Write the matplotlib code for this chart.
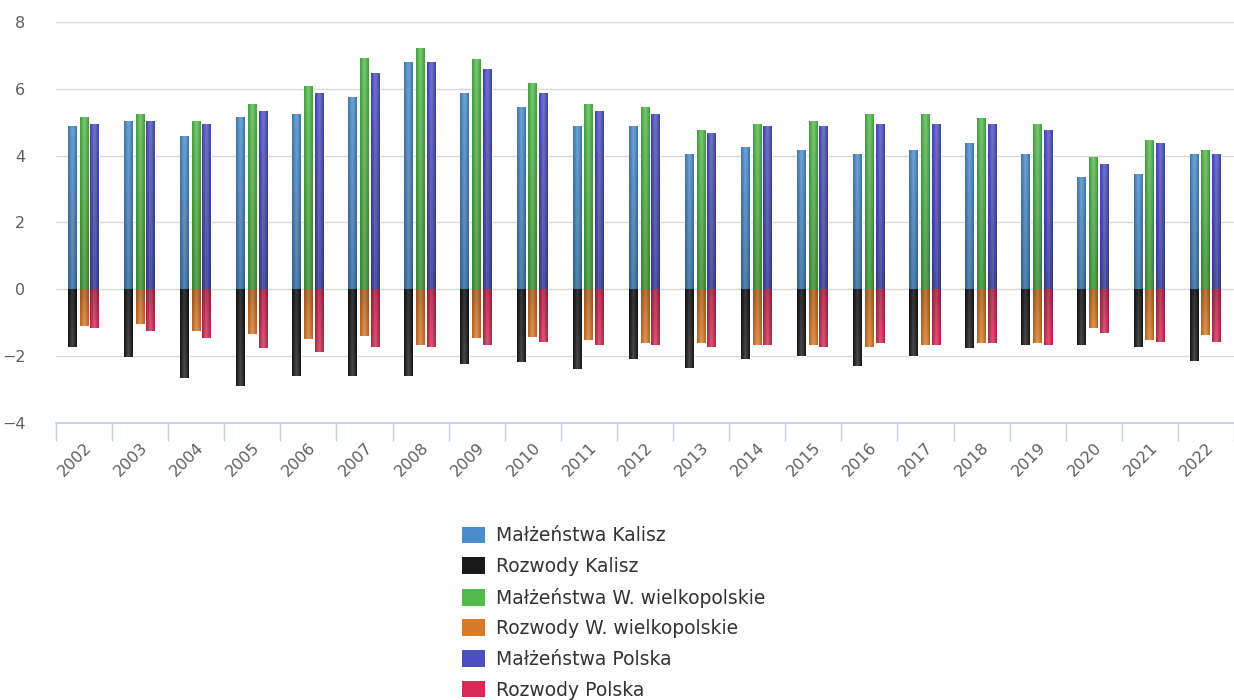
import matplotlib
matplotlib.use("Agg")
import matplotlib.pyplot as plt
from matplotlib.patches import Patch
from matplotlib.colors import to_rgb
import numpy as np

years = [str(y) for y in range(2002, 2023)]

# marriages / divorces per 1000 inhabitants
malz_kalisz = [4.9, 5.05, 4.6, 5.15, 5.25, 5.77, 6.79, 5.86, 5.45, 4.89, 4.89,
               4.06, 4.27, 4.17, 4.06, 4.17, 4.37, 4.06, 3.35, 3.45, 4.06]
rozw_kalisz = [-1.73, -2.03, -2.65, -2.9, -2.6, -2.6, -2.58, -2.23, -2.18, -2.38, -2.08,
               -2.34, -2.08, -1.98, -2.28, -1.98, -1.77, -1.67, -1.67, -1.72, -2.13]
malz_wlkp = [5.15, 5.25, 5.05, 5.55, 6.07, 6.93, 7.23, 6.89, 6.17, 5.55, 5.45,
             4.78, 4.94, 5.04, 5.24, 5.24, 5.14, 4.94, 3.96, 4.47, 4.17]
rozw_wlkp = [-1.1, -1.05, -1.25, -1.35, -1.5, -1.4, -1.67, -1.47, -1.42, -1.52, -1.62,
             -1.62, -1.67, -1.67, -1.72, -1.67, -1.62, -1.62, -1.15, -1.52, -1.36]
malz_pl = [4.95, 5.05, 4.95, 5.35, 5.87, 6.48, 6.79, 6.58, 5.86, 5.35, 5.24,
           4.68, 4.89, 4.89, 4.94, 4.94, 4.94, 4.78, 3.76, 4.37, 4.06]
rozw_pl = [-1.15, -1.25, -1.47, -1.77, -1.87, -1.72, -1.72, -1.67, -1.57, -1.67, -1.67,
           -1.72, -1.67, -1.72, -1.62, -1.67, -1.62, -1.67, -1.31, -1.57, -1.57]

series = [
    ("Małżeństwa Kalisz", malz_kalisz, "#4a8ccc", -0.21),
    ("Rozwody Kalisz", rozw_kalisz, "#1a1a1a", -0.21),
    ("Małżeństwa W. wielkopolskie", malz_wlkp, "#52bb4a", 0.0),
    ("Rozwody W. wielkopolskie", rozw_wlkp, "#d9792a", 0.0),
    ("Małżeństwa Polska", malz_pl, "#4c4fc0", 0.19),
    ("Rozwody Polska", rozw_pl, "#d42a55", 0.19),
]

fig = plt.figure(figsize=(12.34, 7), dpi=100)
ax = fig.add_axes([0.0454, 0.3957, 0.9546, 0.5729])

x = np.arange(len(years))
bar_w = 0.16


def gradient_img(color, negative):
    # lighter in the middle of the bar, a bit darker at the edges and the far end
    base = np.array(to_rgb(color))
    u = np.linspace(0, 1, 16)
    hx = 1 - np.abs(2 * u - 1)
    img = np.zeros((64, 16, 3))
    for i, vv in enumerate(np.linspace(0, 1, 64)):
        depth = vv if not negative else 1 - vv
        light = 0.22 * hx * (1 - 0.4 * depth)
        dark = 0.18 * depth + 0.15 * (1 - hx)
        col = base[None, :] * (1 - dark[:, None])
        col = col + (1 - col) * light[:, None]
        img[i] = np.clip(col, 0, 1)
    return img


for label, vals, color, off in series:
    bars = ax.bar(x + off, vals, width=bar_w, color=color, edgecolor="white",
                  linewidth=0.8, zorder=3)
    img = gradient_img(color, vals[0] < 0)
    for r in bars:
        x0, y0 = r.get_x(), r.get_y()
        w, h = r.get_width(), r.get_height()
        im = ax.imshow(img, extent=[x0, x0 + w, min(y0, y0 + h), max(y0, y0 + h)],
                       aspect="auto", interpolation="bilinear", zorder=3.5)
        im.set_clip_path(r)

ax.set_xlim(-0.5, len(years) - 0.5)
ax.set_ylim(-4, 8)
ax.set_yticks(np.arange(-4, 9, 2))
ax.set_yticklabels(["\u22124", "\u22122", "0", "2", "4", "6", "8"])
ax.grid(axis="y", color="#d8d8d8", linewidth=1, zorder=0)
ax.set_axisbelow(True)

ax.set_xticks(x)
ax.set_xticklabels(years, rotation=45, ha="right", rotation_mode="anchor")
ax.set_xticks(np.arange(-0.5, len(years), 1), minor=True)
ax.tick_params(axis="x", which="major", length=0, pad=12, labelsize=11.5,
               labelcolor="#606060")
ax.tick_params(axis="x", which="minor", length=13, color="#c0d0e0", width=1)
ax.tick_params(axis="y", length=0, labelsize=11.5, labelcolor="#606060", pad=22)

for s in ["top", "right", "left"]:
    ax.spines[s].set_visible(False)
ax.spines["bottom"].set_color("#c0d0e0")
ax.spines["bottom"].set_linewidth(1.2)

handles = [Patch(facecolor=c, edgecolor="none") for _, _, c, _ in series]
labels = [s[0] for s in series]
fig.legend(handles, labels, loc="upper left", bbox_to_anchor=(0.374, 0.248),
           ncol=1, frameon=False, fontsize=13.5, labelcolor="#333333",
           handlelength=1.25, handleheight=1.0, handletextpad=0.6,
           labelspacing=0.62, borderpad=0, borderaxespad=0)

fig.savefig("out.png", dpi=100)
